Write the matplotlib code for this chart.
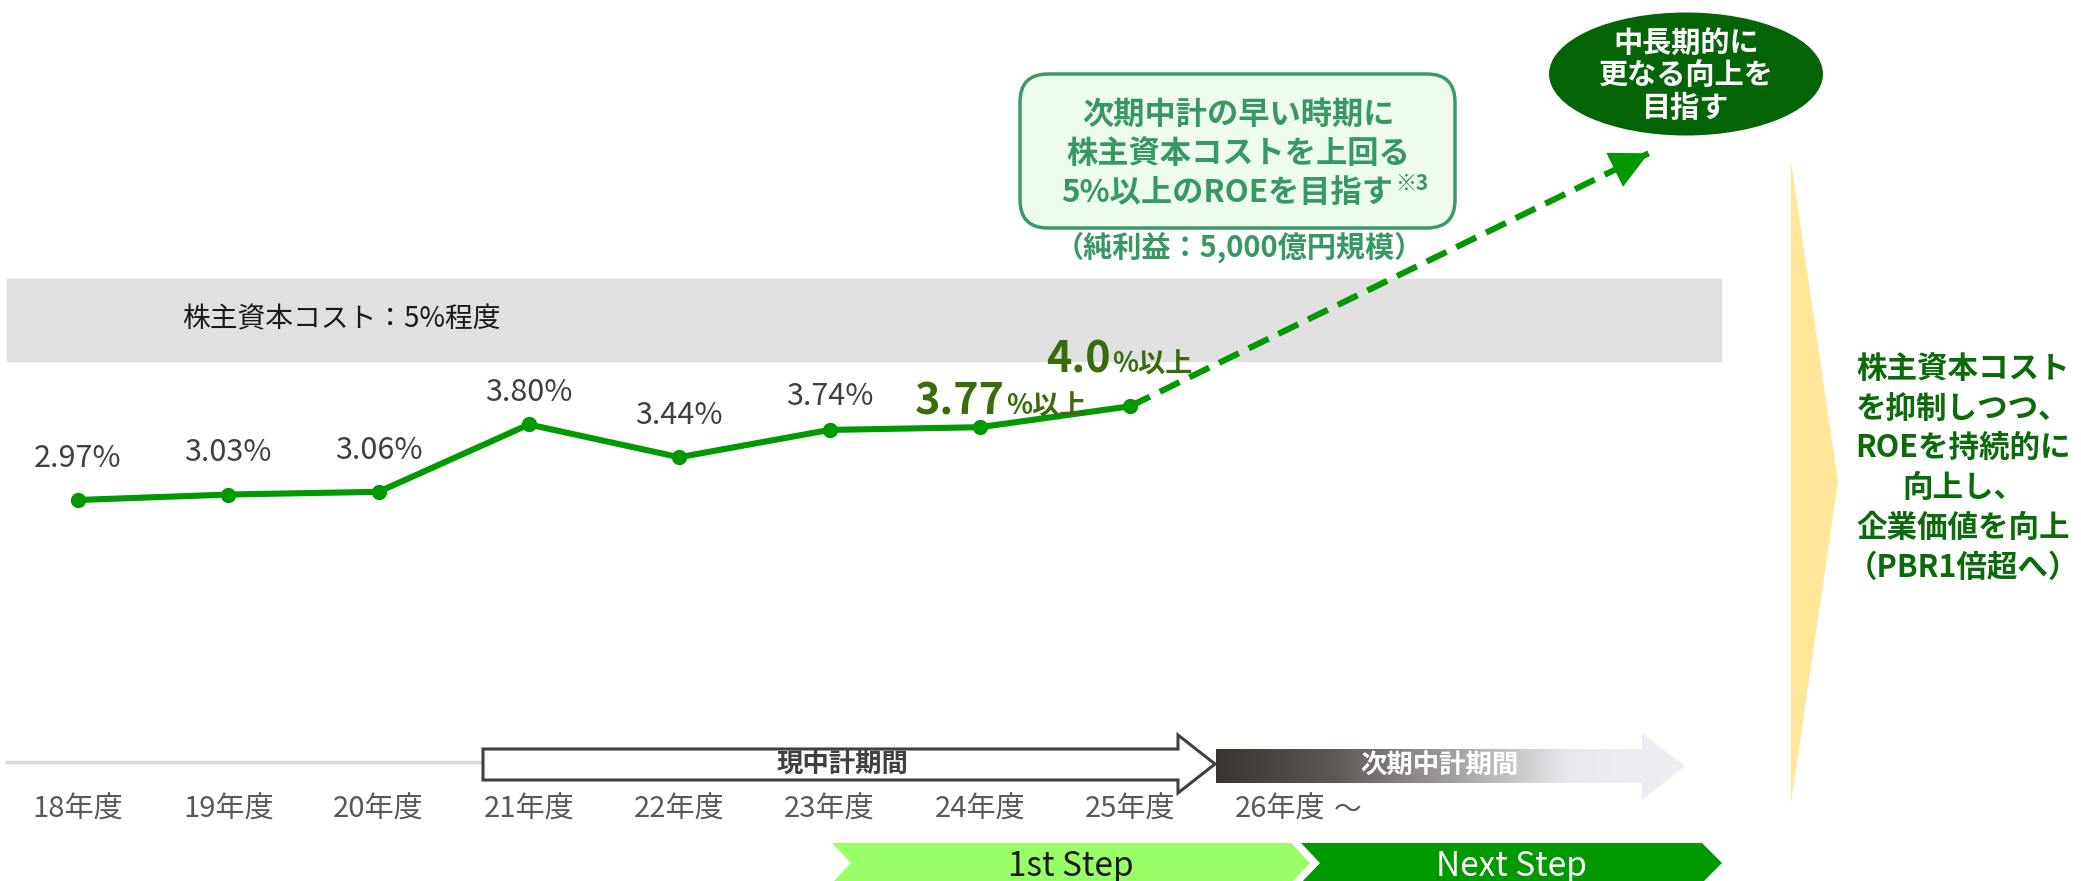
import numpy as np
import matplotlib
matplotlib.use('Agg')
import matplotlib.pyplot as plt
from matplotlib.patches import Polygon, Ellipse, FancyBboxPatch
from matplotlib.colors import LinearSegmentedColormap

plt.rcParams['font.family'] = ['Noto Sans CJK JP', 'DejaVu Sans']

# donnees
years = ['18年度', '19年度', '20年度', '21年度', '22年度', '23年度', '24年度', '25年度', '26年度']
roe = [2.97, 3.03, 3.06, 3.80, 3.44, 3.74, 3.77, 4.0]
roe_labels = ['2.97%', '3.03%', '3.06%', '3.80%', '3.44%', '3.74%']
target_big = ['3.77', '4.0']
target_small = ['%以上', '%以上']
goal_x, goal_roe = 10.45, 6.78          # direction de la fleche pointillee
cost_low, cost_high = 4.5, 5.4          # bande cout des fonds propres
cost_label = '株主資本コスト：5%程度'

box_lines = ['次期中計の早い時期に', '株主資本コストを上回る', '5%以上のROEを目指す']
box_note = '（純利益：5,000億円規模）'
oval_lines = ['中長期的に', '更なる向上を', '目指す']
right_lines = ['株主資本コスト', 'を抑制しつつ、', 'ROEを持続的に', '向上し、', '企業価値を向上', '（PBR1倍超へ）']

W, H = 2081, 881
fig = plt.figure(figsize=(W / 100, H / 100), dpi=100)

# axe "pixels" pour le decor
ov = fig.add_axes([0, 0, 1, 1])
ov.set_xlim(0, W)
ov.set_ylim(H, 0)
ov.axis('off')

# axe des donnees (x = indice annee, y = ROE %)
ax = fig.add_axes([0, 0, 1, 1], zorder=2)
ax.patch.set_alpha(0)
ax.axis('off')
px_x = 150.3
px_y = 91.0
ax.set_xlim(-78 / px_x, (W - 78) / px_x)
ax.set_ylim(2.97 - (H - 500) / px_y, 2.97 + 500 / px_y)

green = '#009900'
dark_olive = '#3B6B0C'

# bande grise
ax.axhspan(cost_low, cost_high, xmin=7 / W, xmax=1721 / W, color='#E0E0E0', zorder=0)
ax.text(0.69, (cost_low + cost_high) / 2, cost_label, fontsize=20, color='#1a1a1a', va='center', ha='left')

# courbe ROE
x = np.arange(len(roe))
ax.plot(x, roe, color=green, lw=4.4, marker='o', ms=10, zorder=3, solid_capstyle='round')

# prolongement pointille + tete de fleche
ax.plot([x[-1], goal_x], [roe[-1], goal_roe], color=green, lw=4.4, dashes=(3.6, 1.8), zorder=3)
d = np.array([goal_x - x[-1], goal_roe - roe[-1]])
ax.annotate('', xy=(goal_x, goal_roe), xytext=(goal_x - 0.02 * d[0], goal_roe - 0.02 * d[1]),
            arrowprops=dict(arrowstyle='-|>', mutation_scale=68, color=green, lw=0,
                            shrinkA=0, shrinkB=0), zorder=4)

# etiquettes des valeurs
lab_off = [30, 30, 30, 23, 30, 24]
for i, lab in enumerate(roe_labels):
    ax.annotate(lab, (x[i], roe[i]), xytext=(0, lab_off[i]), textcoords='offset points',
                ha='center', va='center', fontsize=22, color='#404040')

# objectifs 24 et 25
offs = [(18, 9), (-14, 24)]
for k, i in enumerate([6, 7]):
    ax.annotate(target_big[k], (x[i], roe[i]), xytext=offs[k], textcoords='offset points',
                ha='right', va='baseline', fontsize=31, fontweight='bold', color=dark_olive)
    ax.annotate(target_small[k], (x[i], roe[i]), xytext=(offs[k][0] + 1, offs[k][1]),
                textcoords='offset points', ha='left', va='baseline', fontsize=19.5,
                fontweight='bold', color=dark_olive)

# libelles des annees
xt = ax.get_xaxis_transform()
for i, lab in enumerate(years):
    ax.text(i, 1 - 810 / H, lab, transform=xt, ha='center', va='center', fontsize=21, color='#595959')
ax.text(len(years) - 1 + 0.45, 1 - 810 / H, '～', transform=xt, ha='center', va='center',
        fontsize=20, color='#595959')

# boite texte verte claire
ov.add_patch(FancyBboxPatch((1020, 74), 435, 154, boxstyle='round,pad=0,rounding_size=28',
                            fc='#EDFCEF', ec='#3A9A6A', lw=2.5, zorder=1))
box_col = '#379865'
for yy, t in zip([115, 154], box_lines[:2]):
    ov.text(1238, yy, t, ha='center', va='center', fontsize=22.5, fontweight='bold', color=box_col, zorder=2)
ov.text(1393, 193, box_lines[2], ha='right', va='center', fontsize=22.5, fontweight='bold', color=box_col, zorder=2)
ov.text(1395, 183, '※3', ha='left', va='center', fontsize=15, fontweight='bold', color=box_col, zorder=2)
ov.text(1239, 247, box_note, ha='center', va='center', fontsize=21, fontweight='bold', color=box_col)

# ovale vert fonce
ov.add_patch(Ellipse((1686, 74), 274, 123, fc='#056405', ec='none', zorder=1))
for yy, t in zip([43, 75, 108], oval_lines):
    ov.text(1686, yy, t, ha='center', va='center', fontsize=21, fontweight='bold', color='white', zorder=2)

# chevron jaune a droite
ov.add_patch(Polygon([(1791, 162), (1838, 482), (1791, 803)], closed=True, fc='#FFE699', ec='none'))
for k, t in enumerate(right_lines):
    ov.text(1963, 369 + k * 39.8, t, ha='center', va='center', fontsize=22, fontweight='bold', color='#0B6B0B')

# frise des periodes
ov.plot([5, 483], [762, 762], color='#D9D9D9', lw=2.5, solid_capstyle='butt')
cur = Polygon([(483, 749), (1178, 749), (1178, 735), (1215, 764), (1178, 793), (1178, 780), (483, 780)],
              closed=True, fc='white', ec='#404040', lw=2.2, zorder=2)
ov.add_patch(cur)
ov.text(842, 765, '現中計期間', ha='center', va='center', fontsize=19, fontweight='bold', color='#404040', zorder=3)

nxt = Polygon([(1216, 749), (1642, 749), (1642, 733), (1685, 766), (1642, 800), (1642, 783), (1216, 783)],
              closed=True, fc='none', ec='none')
ov.add_patch(nxt)
cmap = LinearSegmentedColormap.from_list('g', ['#3A3330', '#5E5855', '#A29E9D', '#E6E8EC', '#EEF0F3'])
grad = np.linspace(0, 1, 256).reshape(1, -1)
im = ov.imshow(grad, extent=[1216, 1685, 800, 733], cmap=cmap, aspect='auto', zorder=2)
im.set_clip_path(nxt)
ov.text(1439, 766, '次期中計期間', ha='center', va='center', fontsize=19, fontweight='bold', color='white', zorder=3)

# etapes
ov.add_patch(Polygon([(832, 843), (1291, 843), (1310, 863), (1291, 883), (832, 883), (851, 863)],
                     closed=True, fc='#99FF66', ec='none'))
ov.add_patch(Polygon([(1301, 843), (1702, 843), (1722, 863), (1702, 883), (1301, 883), (1320, 863)],
                     closed=True, fc='#009900', ec='none'))
ov.text(1071, 866, '1st Step', ha='center', va='center', fontsize=24, color='#1a1a1a')
ov.text(1511, 866, 'Next Step', ha='center', va='center', fontsize=24, color='white')

ov.set_xlim(0, W)
ov.set_ylim(H, 0)

plt.savefig('out.png', dpi=100)
